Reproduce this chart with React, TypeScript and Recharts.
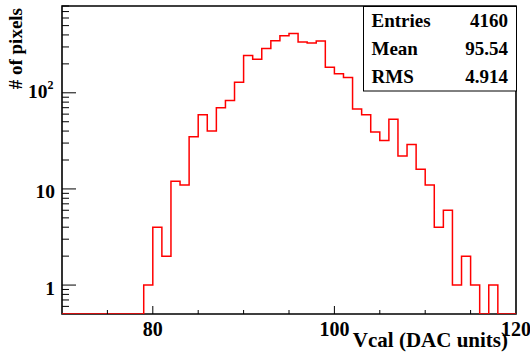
import { ComposedChart, Line, XAxis, YAxis, ReferenceArea } from 'recharts'

// bin low edges (DAC units), last entry closes the final bin
const binEdges = [
  70, 71, 72, 73, 74, 75, 76, 77, 78, 79,
  80, 81, 82, 83, 84, 85, 86, 87, 88, 89,
  90, 91, 92, 93, 94, 95, 96, 97, 98, 99,
  100, 101, 102, 103, 104, 105, 106, 107, 108, 109,
  110, 111, 112, 113, 114, 115, 116, 117, 118, 119, 120,
]
// pixels per bin
const counts = [
  0, 0, 0, 0, 0, 0, 0, 0, 0, 1,
  4, 2, 12, 11, 35, 59, 40, 70, 83, 129,
  244, 224, 289, 348, 392, 414, 337, 329, 345, 185,
  158, 144, 68, 59, 39, 32, 53, 22, 29, 16,
  11, 4, 6, 1, 2, 1, 0, 1, 0, 0,
]
const xTicks = [75, 80, 85, 90, 95, 100, 105, 110, 115, 120]
const xLabels = [80, 100, 120]
const yTicks = [
  0.6, 0.7, 0.8, 0.9, 1, 2, 3, 4, 5, 6, 7, 8, 9,
  10, 20, 30, 40, 50, 60, 70, 80, 90, 100, 200, 300, 400, 500, 600, 700, 800,
]
const yLabels = [1, 10, 100]
const stats = [
  ['Entries', '4160'],
  ['Mean', '95.54'],
  ['RMS', '4.914'],
]

const Y_MIN = 0.5
const Y_MAX = 800
const FONT = '"Liberation Serif", "Times New Roman", serif'

// empty bins sit on the bottom of the frame, like ROOT does on a log axis
const data = binEdges.map((x, i) => ({
  x,
  y: Math.max(counts[Math.min(i, counts.length - 1)], Y_MIN),
}))

function XTick(props: any) {
  const { x, y, payload } = props
  const v = payload.value
  const major = xLabels.includes(v)
  return (
    <g>
      {v < 120 && <line x1={x} x2={x} y1={y} y2={y - (major ? 8 : 4)} stroke="#000" strokeWidth={1} />}
      {major && (
        <text x={x} y={y + 22} textAnchor="middle" fontFamily={FONT} fontWeight="bold" fontSize={20} fill="#000">
          {v}
        </text>
      )}
    </g>
  )
}

function YTick(props: any) {
  const { x, y, payload } = props
  const v = payload.value
  const major = yLabels.includes(v)
  return (
    <g>
      <line x1={x} x2={x + (major ? 14 : 7)} y1={y} y2={y} stroke="#000" strokeWidth={1} />
      {major && v < 100 && (
        <text x={x - 7} y={y + 9.5} textAnchor="end" fontFamily={FONT} fontWeight="bold" fontSize={19.5} fill="#000">
          {v}
        </text>
      )}
      {v === 100 && (
        <text x={x - 8.5} y={y + 5.5} textAnchor="end" fontFamily={FONT} fontWeight="bold" fontSize={19.5} fill="#000">
          10<tspan fontSize={12} dy={-9}>2</tspan>
        </text>
      )}
    </g>
  )
}

export default function App() {
  return (
    <div style={{ position: 'absolute', left: 0, top: 0, width: 530, height: 355, background: '#fff' }}>
      <ComposedChart width={530} height={355} data={data} margin={{ top: 6, right: 14, bottom: 0, left: 0 }}>
        <XAxis
          dataKey="x"
          type="number"
          domain={[70, 120]}
          ticks={xTicks}
          interval={0}
          height={41}
          tickSize={0}
          tickMargin={0}
          tickLine={false}
          axisLine={false}
          tick={(p: any) => <XTick {...p} />}
          allowDataOverflow
        />
        <YAxis
          type="number"
          scale="log"
          domain={[Y_MIN, Y_MAX]}
          ticks={yTicks}
          interval={0}
          width={62}
          tickSize={0}
          tickMargin={0}
          tickLine={false}
          axisLine={false}
          tick={(p: any) => <YTick {...p} />}
          allowDataOverflow
        />
        <ReferenceArea
          x1={70}
          x2={120}
          y1={Y_MIN}
          y2={Y_MAX}
          fill="none"
          stroke="#000"
          strokeWidth={1.6}
          fillOpacity={0}
          zIndex={50}
        />
        <Line
          dataKey="y"
          type="stepAfter"
          stroke="#ff0000"
          strokeWidth={1.5}
          dot={false}
          activeDot={false}
          isAnimationActive={false}
          zIndex={700}
        />
      </ComposedChart>
      <svg width={530} height={355} style={{ position: 'absolute', left: 0, top: 0, pointerEvents: 'none' }}>
        <rect x={363.5} y={6.5} width={153} height={84.5} fill="#fff" stroke="#000" strokeWidth={1} />
        {stats.map(([k, v], i) => (
          <g key={k} fontFamily={FONT} fontWeight="bold" fontSize={19} fill="#000">
            <text x={371.5} y={26.7 + i * 28}>{k}</text>
            <text x={508} y={26.7 + i * 28} textAnchor="end">{v}</text>
          </g>
        ))}
        <text x={508} y={347} textAnchor="end" fontFamily={FONT} fontWeight="bold" fontSize={21} fill="#000">
          Vcal (DAC units)
        </text>
        <text
          transform="translate(21.5, 8) rotate(-90)"
          textAnchor="end"
          fontFamily={FONT}
          fontWeight="bold"
          fontSize={19}
          fill="#000"
        >
          # of pixels
        </text>
      </svg>
    </div>
  )
}
